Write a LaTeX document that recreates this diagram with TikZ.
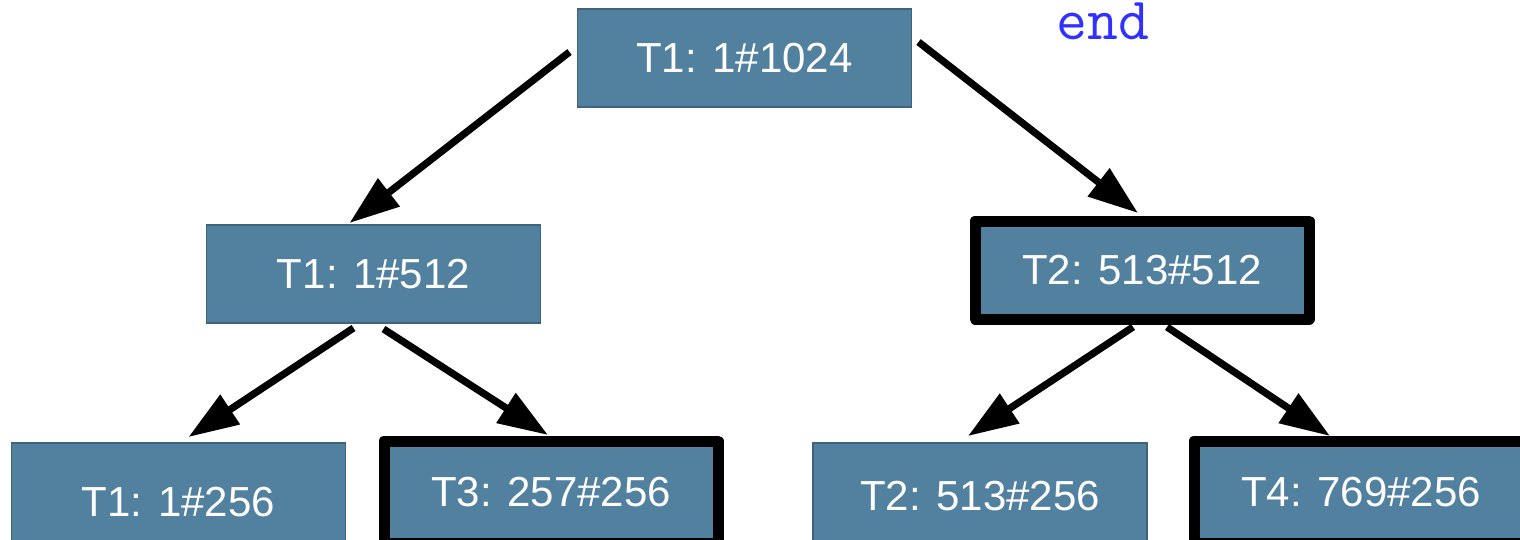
\documentclass[tikz,border=0pt]{standalone}
\usepackage{fontspec}
\setmainfont{Liberation Sans}
\usetikzlibrary{arrows.meta}
\definecolor{boxfill}{HTML}{5281A0}
\definecolor{boxline}{HTML}{3E637D}
\definecolor{endblue}{HTML}{3030FF}
\tikzset{
  task/.style={rectangle, fill=boxfill, draw=boxline, line width=0.8pt, text=white,
    font=\fontsize{21}{24}\selectfont, minimum width=167pt, minimum height=49pt,
    inner sep=0pt, outer sep=0pt},
  stolen/.style={task, draw=black, line width=5.5pt, line join=round},
  split/.style={->, line width=3.6pt},
}
\begin{document}
\begin{tikzpicture}[x=0.5pt, y=-0.5pt, >={Triangle[length=25pt,width=17pt]}]
    \useasboundingbox (0,0) rectangle (1520,540);
    \node [task] (t) at (744.5, 58) {T1: 1\#1024};
    \node [task] (l) at (373.5, 274) {T1: 1\#512};
    \node [stolen] (r) at (1142, 270) {T2: 513\#512};
    \node [task, minimum height=59pt] (ll) at (178.5, 502) {T1: 1\#256};
    \node [stolen, minimum height=51pt] (lr) at (551, 492) {T3: 257\#256};
    \node [task, minimum height=53pt] (rl) at (980, 496) {T2: 513\#256};
    \node [stolen, minimum height=51pt] (rr) at (1361, 492) {T4: 769\#256};
    \node [anchor=base, inner sep=0pt, text=endblue, font=\fontsize{30}{30}\selectfont\ttfamily] (e) at (1103, 40) {end};
    \draw [split] ([xshift=-4pt,yshift=3pt]t.west) to ([xshift=-12pt,yshift=1pt]l.north);
    \draw [split] ([xshift=3.5pt,yshift=8pt]t.east) to ([xshift=-2pt,yshift=4pt]r.north);
    \draw [split] ([xshift=-10pt,yshift=-2.5pt]l.south) to ([xshift=5pt,yshift=3pt]ll.north);
    \draw [split] ([xshift=5pt,yshift=-3pt]l.south) to ([xshift=-1.5pt,yshift=3pt]lr.north);
    \draw [split] ([xshift=-4.5pt,yshift=-4pt]r.south) to ([xshift=-6pt,yshift=3.5pt]rl.north);
    \draw [split] ([xshift=12.5pt,yshift=-4pt]r.south) to ([xshift=-15.5pt,yshift=2.5pt]rr.north);
  \end{tikzpicture}
\end{document}
